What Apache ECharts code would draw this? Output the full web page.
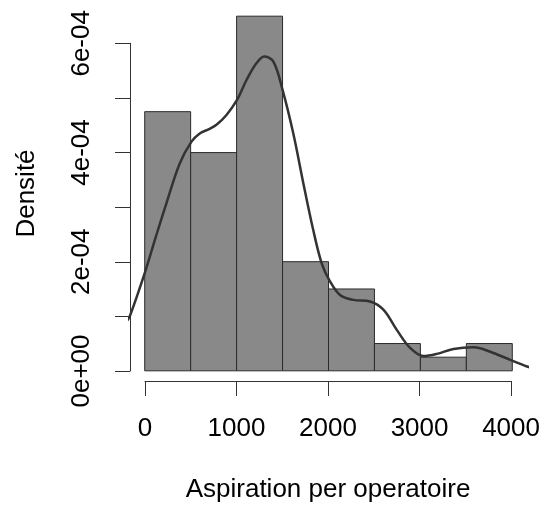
<!DOCTYPE html>
<html>
<head>
<meta charset="utf-8">
<script src="https://cdn.jsdelivr.net/npm/echarts@6/dist/echarts.min.js"></script>
<style>
  html, body { margin: 0; padding: 0; background: #fff; }
  #chart { width: 543px; height: 508px; }
</style>
</head>
<body>
<div id="chart"></div>
<script>
// Histogram bins (breaks every 500) and their densities
var binStart = [0, 500, 1000, 1500, 2000, 2500, 3000, 3500];
var binEnd   = [500, 1000, 1500, 2000, 2500, 3000, 3500, 4000];
var density  = [4.75e-4, 4.0e-4, 6.5e-4, 2.0e-4, 1.5e-4, 0.5e-4, 0.25e-4, 0.5e-4];

// Kernel density estimate, sampled along x
var kdeX = [-200, -160, 0, 120, 236, 381, 509, 599, 700, 781, 890, 1003, 1108, 1217, 1300, 1399, 1500,
            1617, 1726, 1834, 1926, 2016, 2125, 2270, 2452, 2597, 2743, 2888, 3033, 3179, 3360,
            3578, 3760, 3978, 4160, 4250];
var kdeY = [0.90e-4, 1.01e-4, 1.79e-4, 2.45e-4, 3.07e-4, 3.80e-4, 4.20e-4, 4.35e-4, 4.43e-4, 4.51e-4, 4.69e-4,
            4.96e-4, 5.33e-4, 5.64e-4, 5.76e-4, 5.67e-4, 5.15e-4, 4.35e-4, 3.44e-4, 2.58e-4, 1.97e-4,
            1.64e-4, 1.39e-4, 1.30e-4, 1.27e-4, 1.12e-4, 0.75e-4, 0.42e-4, 0.27e-4, 0.31e-4, 0.40e-4,
            0.43e-4, 0.35e-4, 0.20e-4, 0.08e-4, 0.04e-4];

// Axis tick labels
var xTickLabels = ['0', '1000', '2000', '3000', '4000'];
var yTickLabels = ['0e+00', '', '2e-04', '', '4e-04', '', '6e-04'];

var FONT = 'Liberation Sans';
var FS = 26;
var AXIS = '#333';

var barData = binStart.map(function (s, i) { return [s, binEnd[i], density[i]]; });
var kdeData = kdeX.map(function (x, i) { return [x, kdeY[i]]; });

var chart = echarts.init(document.getElementById('chart'), null, { renderer: 'canvas' });
chart.setOption({
  animation: false,
  backgroundColor: '#fff',
  grid: [
    // plotting region
    { left: 130, right: 16, top: 2, bottom: 123 },
    // x axis spanning 0..4000
    { left: 145, right: 31, top: 2, bottom: 123 },
    // y axis spanning 0..6e-4
    { left: 130, right: 16, top: 43.3, bottom: 137 }
  ],
  xAxis: [
    { type: 'value', gridIndex: 0, min: -160, max: 4160, show: false },
    {
      type: 'value', gridIndex: 1, min: 0, max: 4000, interval: 1000,
      position: 'bottom',
      axisLine: { show: true, lineStyle: { color: AXIS, width: 1 } },
      axisTick: { show: true, length: 15, lineStyle: { color: AXIS, width: 1 } },
      splitLine: { show: false },
      axisLabel: {
        margin: 35, fontFamily: FONT, fontSize: FS, color: '#000', lineHeight: FS,
        formatter: function (v) { return xTickLabels[Math.round(v / 1000)]; }
      },
      name: 'Aspiration per operatoire',
      nameLocation: 'middle',
      nameGap: 96,
      nameTextStyle: { fontFamily: FONT, fontSize: FS, color: '#000', lineHeight: FS }
    },
    { type: 'value', gridIndex: 2, min: 0, max: 1, show: false }
  ],
  yAxis: [
    {
      type: 'value', gridIndex: 0, min: -0.26e-4, max: 6.76e-4,
      axisLine: { show: false }, axisTick: { show: false }, axisLabel: { show: false },
      splitLine: { show: false },
      name: 'Densité',
      nameLocation: 'middle',
      nameRotate: 90,
      nameGap: 90,
      nameTextStyle: { fontFamily: FONT, fontSize: FS, color: '#000', lineHeight: FS }
    },
    { type: 'value', gridIndex: 1, min: 0, max: 1, show: false },
    {
      type: 'value', gridIndex: 2, min: 0, max: 6e-4, interval: 1e-4,
      axisLine: { show: true, lineStyle: { color: AXIS, width: 1 } },
      axisTick: { show: true, length: 15, lineStyle: { color: AXIS, width: 1 } },
      splitLine: { show: false },
      axisLabel: {
        rotate: 90, margin: 35, fontFamily: FONT, fontSize: FS, color: '#000', lineHeight: FS,
        formatter: function (v) { return yTickLabels[Math.round(v / 1e-4)]; }
      }
    }
  ],
  series: [
    {
      type: 'custom',
      xAxisIndex: 0, yAxisIndex: 0,
      data: barData,
      clip: true,
      encode: { x: [0, 1], y: 2 },
      renderItem: function (params, api) {
        var p0 = api.coord([api.value(0), 0]);
        var p1 = api.coord([api.value(1), api.value(2)]);
        return {
          type: 'rect',
          shape: { x: p0[0], y: p1[1], width: p1[0] - p0[0], height: p0[1] - p1[1] },
          style: { fill: '#898989', stroke: '#2b2b2b', lineWidth: 1 }
        };
      }
    },
    {
      type: 'line',
      xAxisIndex: 0, yAxisIndex: 0,
      data: kdeData,
      smooth: 0.35,
      showSymbol: false,
      clip: true,
      lineStyle: { color: '#333', width: 2.5 }
    }
  ]
});
</script>
</body>
</html>
